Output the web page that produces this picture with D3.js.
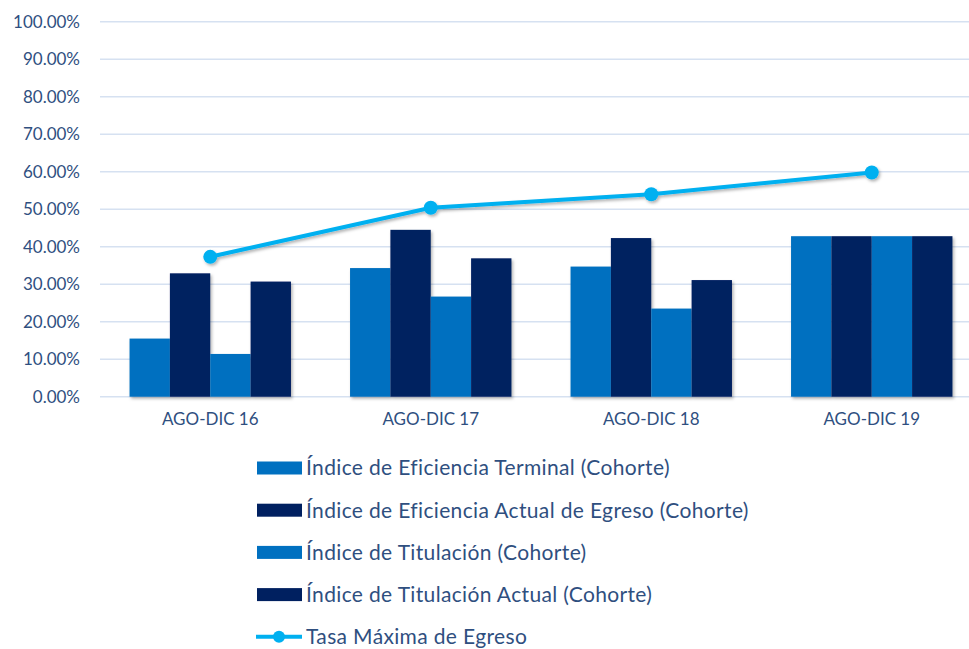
<!DOCTYPE html>
<html>
<head>
<meta charset="utf-8">
<script src="https://cdn.jsdelivr.net/npm/d3@7"></script>
<style>
  body { margin: 0; background: #fff; }
  text { font-family: Lato, "Open Sans", sans-serif; fill: #2f4f7f; }
</style>
</head>
<body>
<div id="chart"></div>
<script>
var categories = ["AGO-DIC 16", "AGO-DIC 17", "AGO-DIC 18", "AGO-DIC 19"];
var barSeries = [
  "Índice de Eficiencia Terminal (Cohorte)",
  "Índice de Eficiencia Actual de Egreso (Cohorte)",
  "Índice de Titulación (Cohorte)",
  "Índice de Titulación Actual (Cohorte)"
];
var lineSeries = "Tasa Máxima de Egreso";
var eficienciaTerminal = [15.5, 34.3, 34.7, 42.8];
var eficienciaActual   = [32.9, 44.5, 42.3, 42.8];
var titulacion         = [11.4, 26.7, 23.5, 42.8];
var titulacionActual   = [30.7, 36.9, 31.1, 42.8];
var tasaMaxima         = [37.3, 50.4, 54.0, 59.8];
var yTicks = [0, 10, 20, 30, 40, 50, 60, 70, 80, 90, 100];

var barValues = [eficienciaTerminal, eficienciaActual, titulacion, titulacionActual];
var barColors = ["#0070c0", "#002060", "#0070c0", "#002060"];
var lineColor = "#00b0f0";

var width = 969, height = 649;
var plot = { left: 100, right: 982, top: 21.7, bottom: 396.7 };

var svg = d3.select("#chart").append("svg")
    .attr("width", width)
    .attr("height", height);

var defs = svg.append("defs");
var shadow = defs.append("filter").attr("id", "shadow")
    .attr("x", "-20%").attr("y", "-20%").attr("width", "140%").attr("height", "140%");
shadow.append("feDropShadow")
    .attr("dx", 1.5).attr("dy", 2).attr("stdDeviation", 1.5)
    .attr("flood-color", "#000").attr("flood-opacity", 0.3);

var x0 = d3.scaleBand().domain(categories)
    .range([plot.left, plot.right])
    .paddingInner(0.268).paddingOuter(0.134);
var x1 = d3.scaleBand().domain(d3.range(barSeries.length))
    .range([0, x0.bandwidth()]);
var y = d3.scaleLinear().domain([0, 100]).range([plot.bottom, plot.top]);

// gridlines
svg.append("g").selectAll("line").data(yTicks).enter().append("line")
    .attr("x1", plot.left).attr("x2", width)
    .attr("y1", function(d) { return y(d); })
    .attr("y2", function(d) { return y(d); })
    .attr("stroke", "#d6e1f1").attr("stroke-width", 1.5);

// y axis labels
var yAxis = d3.axisLeft(y).tickValues(yTicks)
    .tickFormat(function(d) { return d.toFixed(2) + "%"; })
    .tickSize(0).tickPadding(0);
var yAxisG = svg.append("g").attr("transform", "translate(80,0)").call(yAxis);
yAxisG.select(".domain").remove();
yAxisG.selectAll("text").attr("font-size", 17).attr("fill", "#2f4f7f")
    .attr("font-family", "Lato, sans-serif");

// x axis labels
var xAxis = d3.axisBottom(x0).tickSize(0).tickPadding(0);
var xAxisG = svg.append("g").attr("transform", "translate(0,413)").call(xAxis);
xAxisG.select(".domain").remove();
xAxisG.selectAll("text").attr("font-size", 17).attr("fill", "#2f4f7f")
    .attr("font-family", "Lato, sans-serif");

// bars
var barsG = svg.append("g").attr("filter", "url(#shadow)");
var groups = barsG.selectAll("g").data(categories).enter().append("g")
    .attr("transform", function(d) { return "translate(" + x0(d) + ",0)"; });
groups.selectAll("rect")
    .data(function(d, i) {
        return barValues.map(function(s, j) { return { k: j, v: s[i] }; });
    })
    .enter().append("rect")
    .attr("x", function(d) { return x1(d.k); })
    .attr("width", x1.bandwidth())
    .attr("y", function(d) { return y(d.v); })
    .attr("height", function(d) { return y(0) - y(d.v); })
    .attr("fill", function(d) { return barColors[d.k]; });

// line
var lineG = svg.append("g").attr("filter", "url(#shadow)");
var line = d3.line()
    .x(function(d, i) { return x0(categories[i]) + x0.bandwidth() / 2; })
    .y(function(d) { return y(d); });
lineG.append("path").datum(tasaMaxima)
    .attr("d", line)
    .attr("fill", "none").attr("stroke", lineColor).attr("stroke-width", 4);
lineG.selectAll("circle").data(tasaMaxima).enter().append("circle")
    .attr("cx", function(d, i) { return x0(categories[i]) + x0.bandwidth() / 2; })
    .attr("cy", function(d) { return y(d); })
    .attr("r", 7).attr("fill", lineColor);

// legend
var legend = svg.append("g").attr("transform", "translate(257,468)");
var rowH = 42.2;
barSeries.forEach(function(name, i) {
    var row = legend.append("g").attr("transform", "translate(0," + (i * rowH) + ")");
    row.append("rect").attr("x", 0).attr("y", -6.5).attr("width", 45).attr("height", 13)
        .attr("fill", barColors[i]);
    row.append("text").attr("x", 49).attr("y", 0).attr("dy", "0.35em")
        .attr("font-size", 21).attr("letter-spacing", 0.35).text(name);
});
var lrow = legend.append("g").attr("transform", "translate(0," + (4 * rowH) + ")");
lrow.append("line").attr("x1", -1).attr("x2", 45).attr("y1", 0).attr("y2", 0)
    .attr("stroke", lineColor).attr("stroke-width", 4);
lrow.append("circle").attr("cx", 22).attr("cy", 0).attr("r", 6).attr("fill", lineColor);
lrow.append("text").attr("x", 49).attr("y", 0).attr("dy", "0.35em")
    .attr("font-size", 21).attr("letter-spacing", 0.35).text(lineSeries);
</script>
</body>
</html>
